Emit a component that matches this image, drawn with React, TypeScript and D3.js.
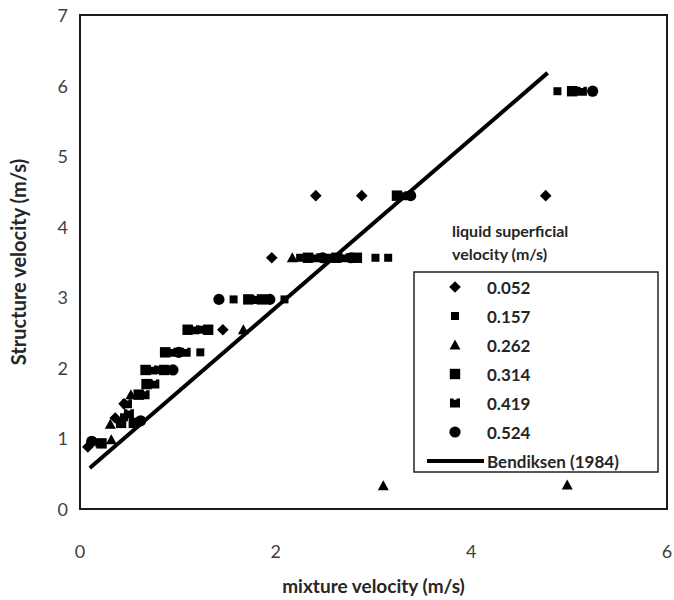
import React from "react";
import * as d3 from "d3";

// ---- data ----
const seriesNames = ["0.052", "0.157", "0.262", "0.314", "0.419", "0.524"];
const s052x = [0.08, 0.36, 0.45, 1.46, 1.96, 2.41, 2.88, 4.76];
const s052y = [0.88, 1.29, 1.49, 2.54, 3.56, 4.44, 4.44, 4.44];
const s157x = [0.2, 0.45, 0.8, 1.23, 1.24, 1.57, 2.09, 2.25, 2.55, 3.02, 3.15, 4.88];
const s157y = [0.93, 1.3, 1.97, 2.22, 2.54, 2.97, 2.97, 3.56, 3.56, 3.56, 3.56, 5.92];
const s262x = [0.32, 0.31, 0.52, 1.67, 2.17, 3.1, 4.98];
const s262y = [0.98, 1.2, 1.62, 2.54, 3.56, 0.33, 0.34];
const s314x = [0.22, 0.42, 0.55, 0.6, 0.68, 0.67, 0.86, 0.87, 1.1, 1.31, 1.72, 1.86, 2.33, 2.62, 2.83, 3.24, 5.03];
const s314y = [0.93, 1.22, 1.22, 1.62, 1.77, 1.97, 1.97, 2.22, 2.54, 2.54, 2.97, 2.97, 3.56, 3.56, 3.56, 4.44, 5.92];
const s419x = [0.5, 0.48, 0.66, 0.76, 0.74, 0.94, 1.08, 1.17, 1.8, 2.4, 2.7, 3.3, 5.13];
const s419y = [1.35, 1.49, 1.62, 1.77, 1.97, 2.22, 2.22, 2.54, 2.97, 3.56, 3.56, 4.44, 5.92];
const s524x = [0.12, 0.62, 0.95, 1.01, 1.42, 1.94, 2.48, 2.77, 3.38, 5.24];
const s524y = [0.96, 1.25, 1.97, 2.22, 2.97, 2.97, 3.56, 3.56, 4.44, 5.92];
const bendiksenX = [0.1, 4.78];
const bendiksenY = [0.58, 6.18];
const xTicks = [0, 2, 4, 6];
const yTicks = [0, 1, 2, 3, 4, 5, 6, 7];

const allX = [s052x, s157x, s262x, s314x, s419x, s524x];
const allY = [s052y, s157y, s262y, s314y, s419y, s524y];

const W = 674, H = 600;
const L = 80, R = 667, T = 15, B = 509;
const FONT = "Lato, 'Open Sans', sans-serif";

function markerPath(i: number): string {
  const p = d3.path();
  if (i === 0) {
    const r = 5.8;
    p.moveTo(0, -r); p.lineTo(r, 0); p.lineTo(0, r); p.lineTo(-r, 0); p.closePath();
    return p.toString();
  }
  if (i === 1) { p.rect(-4, -4, 8, 8); return p.toString(); }
  if (i === 2) {
    p.moveTo(0, -5.5); p.lineTo(5.5, 4.5); p.lineTo(-5.5, 4.5); p.closePath();
    return p.toString();
  }
  if (i === 3) { p.rect(-5.2, -5.2, 10.4, 10.4); return p.toString(); }
  if (i === 4) {
    p.moveTo(-5, -4.5); p.lineTo(-1.5, -4.5); p.lineTo(-1.5, -3.3); p.lineTo(1.5, -3.3);
    p.lineTo(1.5, -4.5); p.lineTo(5, -4.5); p.lineTo(5, 4.5); p.lineTo(-5, 4.5); p.closePath();
    return p.toString();
  }
  return d3.symbol(d3.symbolCircle, Math.PI * 5.6 * 5.6)() as string;
}

export default function App() {
  const x = d3.scaleLinear().domain([0, 6]).range([L, R]);
  const y = d3.scaleLinear().domain([0, 7]).range([B, T]);
  const line = d3.line<number>().x((_, i) => x(bendiksenX[i])).y((_, i) => y(bendiksenY[i]));

  const legX = 414, legY = 272, legW = 244, legH = 200;
  const rowH = 29;

  return (
    <svg width={W} height={H} style={{ position: "absolute", left: 0, top: 0, background: "#fff" }}>
      <rect x={0} y={0} width={W} height={H} fill="#fff" />
      {/* plot frame */}
      <rect x={L} y={T} width={R - L} height={B - T} fill="none" stroke="#1a1a1a" strokeWidth={2} />
      {/* y ticks */}
      {yTicks.map((t) => (
        <text key={"y" + t} x={68} y={y(t)} textAnchor="end" dominantBaseline="central"
          fontFamily={FONT} fontSize={18} fill="#404040">{t}</text>
      ))}
      {xTicks.map((t) => (
        <text key={"x" + t} x={x(t)} y={551} textAnchor="middle" dominantBaseline="central"
          fontFamily={FONT} fontSize={18} fill="#404040">{t}</text>
      ))}
      <text x={(L + R) / 2} y={585} textAnchor="middle" dominantBaseline="central"
        fontFamily={FONT} fontSize={19} fontWeight="bold" fill="#262626">mixture velocity (m/s)</text>
      <text transform={`translate(18,${(T + B) / 2}) rotate(-90)`} textAnchor="middle" dominantBaseline="central"
        fontFamily={FONT} fontSize={20} fontWeight="bold" fill="#262626">Structure velocity (m/s)</text>

      {/* Bendiksen line */}
      <path d={line(bendiksenX) as string} stroke="#000" strokeWidth={4} fill="none" />

      {/* points */}
      {allX.map((xs, si) => (
        <g key={si}>
          {xs.map((xv, j) => (
            <path key={j} d={markerPath(si)} transform={`translate(${x(xv)},${y(allY[si][j])})`} fill="#000" />
          ))}
        </g>
      ))}

      {/* legend title */}
      <text x={452} y={230} fontFamily={FONT} fontSize={16} fontWeight="bold" fill="#262626" dominantBaseline="central">liquid superficial</text>
      <text x={452} y={253} fontFamily={FONT} fontSize={16} fontWeight="bold" fill="#262626" dominantBaseline="central">velocity (m/s)</text>

      {/* legend */}
      <rect x={legX} y={legY} width={legW} height={legH} fill="#fff" stroke="#222" strokeWidth={1.5} />
      {seriesNames.map((nm, i) => {
        const cy = legY + 15 + i * rowH;
        return (
          <g key={nm}>
            <path d={markerPath(i)} transform={`translate(455,${cy})`} fill="#000" />
            <text x={487} y={cy} dominantBaseline="central" fontFamily={FONT} fontSize={17} fontWeight="bold" fill="#262626">{nm}</text>
          </g>
        );
      })}
      <line x1={427} x2={484} y1={legY + 15 + 6 * rowH} y2={legY + 15 + 6 * rowH} stroke="#000" strokeWidth={4} />
      <text x={487} y={legY + 15 + 6 * rowH} dominantBaseline="central" fontFamily={FONT} fontSize={17} fontWeight="bold" fill="#262626">Bendiksen (1984)</text>
    </svg>
  );
}
